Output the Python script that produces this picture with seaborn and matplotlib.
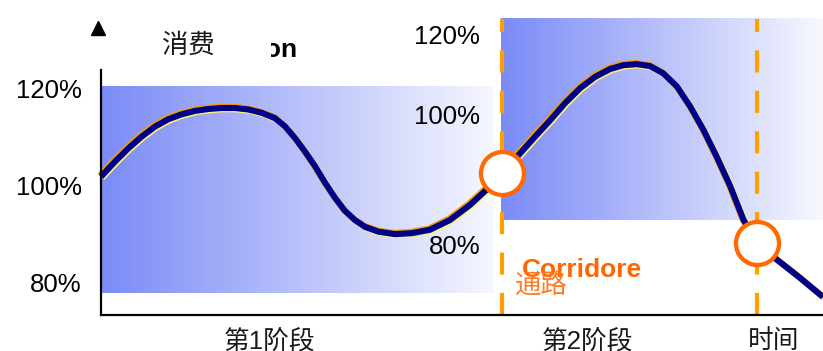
import numpy as np
import pandas as pd
import matplotlib
matplotlib.use("Agg")
import matplotlib.pyplot as plt
import matplotlib.patheffects as pe
from matplotlib.patches import Rectangle
import seaborn as sns

# ---------------- data ----------------
time = [0.0, 0.35, 0.68, 1.01, 1.35, 1.68, 2.01, 2.34, 2.68, 3.01, 3.34, 3.67,
        4.01, 4.34, 4.59, 4.84, 5.09, 5.34, 5.59, 5.84, 6.08, 6.33, 6.58, 6.92,
        7.33, 7.75, 8.20, 8.70, 9.20, 9.70, 9.99, 10.45, 10.82, 11.20, 11.57,
        11.95, 12.32, 12.69, 13.03, 13.36, 13.69, 14.02, 14.36, 14.69, 15.02,
        15.35, 15.69, 16.02, 16.36, 16.86, 17.43, 18.0]
consumption = [101.8, 104.9, 107.6, 110.0, 112.1, 113.6, 114.6, 115.3, 115.7,
               115.9, 115.9, 115.6, 114.9, 113.8, 112.1, 109.7, 106.9, 103.9,
               100.5, 97.4, 94.8, 92.9, 91.5, 90.5, 90.0, 90.2, 90.9, 92.9,
               96.0, 99.8, 102.5, 106.6, 110.0, 113.4, 116.9, 120.0, 122.3,
               123.9, 124.7, 124.9, 124.5, 123.0, 120.3, 116.2, 111.4, 105.9,
               99.8, 92.9, 88.2, 84.7, 81.0, 77.1]
stage_bounds = [10.0, 16.36]
cross_values = [102.6, 88.2]
left_ticks = [80, 100, 120]
left_tick_labels = ["80%", "100%", "120%"]
mid_tick_labels = ["120%", "100%", "80%"]
x_labels = ["第1阶段", "第2阶段", "时间"]
x_label_pos = [4.21, 12.12, 16.76]

# ---------------- style ----------------
sns.set_theme(style="white")
plt.rcParams["font.family"] = ["Liberation Sans", "Noto Sans CJK SC", "DejaVu Sans"]

W, H = 823, 351
fig = plt.figure(figsize=(W / 100, H / 100), dpi=100)
ax = fig.add_axes([101 / W, 36 / H, 722 / W, 245 / H])
ax.set_facecolor("none")

XMIN, XMAX = 0.0, 18.0
YMIN, YMAX = 73.4, 123.7

blue = np.array([123, 139, 246]) / 255.0
white = np.array([1.0, 1.0, 1.0])


def gradient(x0, x1, y0, y1, fmax):
    f = np.linspace(0, fmax, 256)
    img = blue[None, :] * (1 - f[:, None]) + white[None, :] * f[:, None]
    img = img[None, :, :]
    im = ax.imshow(img, extent=[x0, x1, y0, y1], aspect="auto",
                   interpolation="bilinear", zorder=1, origin="lower")
    im.set_clip_on(False)


gradient(0.0, 9.78, 77.9, 120.2, 0.93)
gradient(9.98, 18.0, 92.9, 134.2, 0.94)

# curve
df = pd.DataFrame({"time": time, "consumption": consumption})
sns.lineplot(data=df, x="time", y="consumption", ax=ax, color="#00008B",
             linewidth=4.4, sort=False, zorder=4)
line = ax.lines[-1]
line.set_clip_on(False)
line.set_solid_capstyle("butt")
line.set_solid_joinstyle("round")
line.set_path_effects([
    pe.Stroke(offset=(-0.8, 0.8), linewidth=4.6, foreground="#F2A000"),
    pe.Stroke(offset=(0.8, -0.8), linewidth=4.6, foreground="#FFF27A"),
    pe.Normal(),
])

# dashed stage boundaries
ax.vlines(stage_bounds, YMIN, 134.2, colors="#FFA000", linewidth=3.0,
          linestyles=(0, (5.3, 4.4)), zorder=3, clip_on=False)

# crossing circles
ax.plot(stage_bounds, cross_values, linestyle="none", marker="o",
        markersize=31, markerfacecolor="white", markeredgecolor="#FF6A00",
        markeredgewidth=3.1, zorder=6, clip_on=False)

# axis arrow
ax.plot([-0.07], [132.3], marker="^", markersize=10, color="black",
        linestyle="none", clip_on=False, zorder=6)

# limits / spines
ax.set_xlim(XMIN, XMAX)
ax.set_ylim(YMIN, YMAX)
for s in ["top", "right"]:
    ax.spines[s].set_visible(False)
for s in ["left", "bottom"]:
    ax.spines[s].set_color("black")
    ax.spines[s].set_linewidth(1.6)
    ax.spines[s].set_zorder(7)

ax.set_yticks(left_ticks)
ax.set_yticklabels(left_tick_labels, fontsize=18.5, color="black")
ax.set_xticks(x_label_pos)
ax.set_xticklabels(x_labels, fontsize=18.5, color="#1a1a1a")
ax.tick_params(axis="y", length=0, pad=14)
ax.tick_params(axis="x", length=0, pad=10)
ax.set_xlabel("")
ax.set_ylabel("")

# middle tick labels (second stage scale)
for lab, yv in zip(mid_tick_labels, [130.5, 114.1, 87.4]):
    ax.text(9.45, yv, lab, ha="right", va="center", fontsize=18.5,
            color="black", zorder=5, clip_on=False)

# title text partly covered by Chinese label box
ax.text(4.9, 127.8, "Consumption", ha="right", va="center", fontsize=19,
        fontweight="bold", color="black", zorder=8, clip_on=False)
ax.add_patch(Rectangle((0.2, 124.1), 4.05, 10.0, facecolor="white",
                       edgecolor="none", zorder=9, clip_on=False))
ax.text(2.17, 128.8, "消费", ha="center", va="center", fontsize=19,
        color="#1a1a1a", zorder=10, clip_on=False)

# corridor label partly covered
ax.text(10.5, 82.6, "Corridore", ha="left", va="center", fontsize=19,
        fontweight="bold", color="#FF6600", zorder=8, clip_on=False)
ax.add_patch(Rectangle((10.3, 76.5), 3.4, 4.7, facecolor="white",
                       edgecolor="none", zorder=9, clip_on=False))
ax.text(10.97, 79.6, "通路", ha="center", va="center", fontsize=19,
        color="#FF7A22", zorder=10, clip_on=False)

fig.savefig("out.png", dpi=100)
